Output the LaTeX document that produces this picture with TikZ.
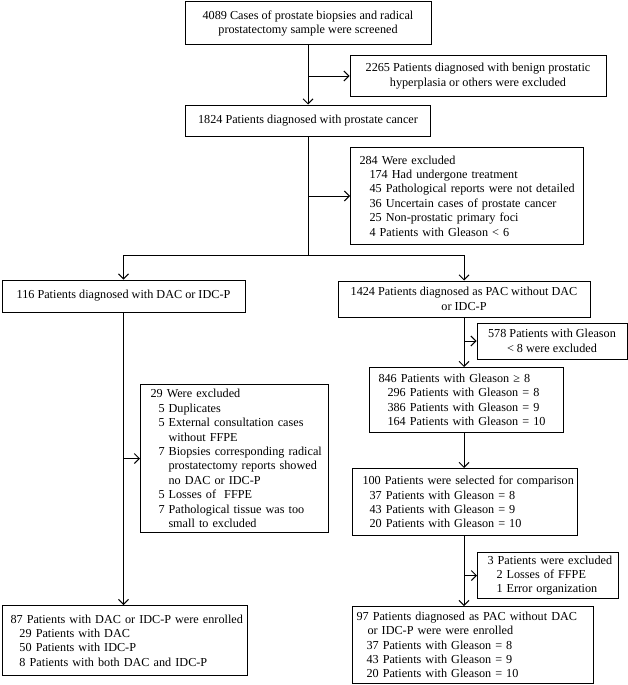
\documentclass[tikz,border=0pt]{standalone}
\usepackage{fontspec}
\setmainfont{Liberation Serif}
\usetikzlibrary{arrows.meta}
\newcommand\bxline[2]{\mbox{\hspace*{#1}#2}}
\begin{document}
\begin{tikzpicture}[x=1pt,y=-1pt,
  every node/.style={font=\fontsize{12.2}{14.4}\selectfont},
  cbox/.style={draw, line width=1pt, align=center, inner sep=0pt},
  lbox/.style={draw, line width=1pt, align=left, inner ysep=0pt, anchor=north west},
  arr/.style={line width=1pt, -{Straight Barb[length=5pt,width=10pt]}},
  ln/.style={line width=1pt}]
\useasboundingbox (0,0) rectangle (628,685);

\node[cbox, minimum width=246pt, minimum height=43pt] (top) at (308,23.5)
  {4089 Cases of prostate biopsies and radical\\prostatectomy sample were screened};
\node[cbox, minimum width=256pt, minimum height=40pt] (exa) at (478,76)
  {2265 Patients diagnosed with benign prostatic\\hyperplasia or others were excluded};
\node[cbox, minimum width=245pt, minimum height=31pt] (pc) at (308,120.5)
  {1824 Patients diagnosed with prostate cancer};
\node[lbox, minimum height=97pt, text width=215pt, inner xsep=9pt] (exb) at (350,147)
  {\bxline{0pt}{284 Were excluded}\\
   \bxline{10pt}{174 Had undergone treatment}\\
   \bxline{10pt}{45 Pathological reports were not detailed}\\
   \bxline{10pt}{36 Uncertain cases of prostate cancer}\\
   \bxline{10pt}{25 Non-prostatic primary foci}\\
   \bxline{10pt}{4 Patients with Gleason < 6}};

\coordinate (split) at (308,255);

\node[cbox, minimum width=243pt, minimum height=32pt] (dac) at (123.5,296)
  {116 Patients diagnosed with DAC or IDC-P};
\node[cbox, minimum width=252pt, minimum height=36pt] (pac) at (464,299)
  {1424 Patients diagnosed as PAC without DAC\\or IDC-P};
\node[cbox, minimum width=150pt, minimum height=36pt] (exc) at (552,341)
  {578 Patients with Gleason\\< 8 were excluded};
\node[lbox, minimum height=65pt, text width=176pt, inner xsep=9pt] (gl) at (369,367)
  {\bxline{0pt}{846 Patients with Gleason ≥ 8}\\
   \bxline{9pt}{296 Patients with Gleason = 8}\\
   \bxline{9pt}{386 Patients with Gleason = 9}\\
   \bxline{9pt}{164 Patients with Gleason = 10}};
\node[lbox, minimum height=67pt, text width=205pt, inner xsep=10pt] (sel) at (352,468)
  {\bxline{0pt}{100 Patients were selected for comparison}\\
   \bxline{7pt}{37 Patients with Gleason = 8}\\
   \bxline{7pt}{43 Patients with Gleason = 9}\\
   \bxline{7pt}{20 Patients with Gleason = 10}};
\node[lbox, minimum height=46pt, text width=121pt, inner xsep=10pt] (exd) at (477,552)
  {\bxline{0pt}{3 Patients were excluded}\\
   \bxline{9pt}{2 Losses of FFPE}\\
   \bxline{9pt}{1 Error organization}};
\node[lbox, minimum height=77pt, text width=233pt, inner xsep=4pt] (pacf) at (352,606)
  {\bxline{0pt}{97 Patients diagnosed as PAC without DAC}\\
   \bxline{11pt}{or IDC-P were were enrolled}\\
   \bxline{10pt}{37 Patients with Gleason = 8}\\
   \bxline{10pt}{43 Patients with Gleason = 9}\\
   \bxline{10pt}{20 Patients with Gleason = 10}};

\node[lbox, minimum height=148pt, text width=168pt, inner xsep=10pt] (exe) at (140,384)
  {\bxline{0pt}{29 Were excluded}\\
   \bxline{8pt}{5 Duplicates}\\
   \bxline{8pt}{5 External consultation cases}\\
   \bxline{18pt}{without FFPE}\\
   \bxline{8pt}{7 Biopsies corresponding radical}\\
   \bxline{18pt}{prostatectomy reports showed}\\
   \bxline{18pt}{no DAC or IDC-P}\\
   \bxline{8pt}{5 Losses of~ FFPE}\\
   \bxline{8pt}{7 Pathological tissue was too}\\
   \bxline{18pt}{small to excluded}};
\node[lbox, minimum height=70pt, text width=229pt, inner xsep=8pt] (dacf) at (2,605)
  {\bxline{0pt}{87 Patients with DAC or IDC-P were enrolled}\\
   \bxline{9pt}{29 Patients with DAC}\\
   \bxline{9pt}{50 Patients with IDC-P}\\
   \bxline{9pt}{8 Patients with both DAC and IDC-P}};

% connectors
\draw[arr] (top.south) -- (top.south |- pc.north);
\draw[arr] (top.south |- exa.west) -- (exa.west);
\draw[ln] (pc.south) -- (split);
\draw[arr] (pc.south |- exb.west) -- (exb.west);
\draw[arr] (split) -| (dac.north);
\draw[arr] (split) -| (pac.north);

\draw[arr] (dac.south) -- (dac.south |- dacf.north);
\draw[arr] (dac.south |- exe.west) -- (exe.west);

\draw[arr] (pac.south) -- (pac.south |- gl.north);
\draw[arr] (pac.south |- exc.west) -- (exc.west);
\draw[arr] (pac.south |- gl.south) -- (pac.south |- sel.north);
\draw[arr] (pac.south |- sel.south) -- (pac.south |- pacf.north);
\draw[arr] (pac.south |- exd.west) -- (exd.west);
\end{tikzpicture}
\end{document}
